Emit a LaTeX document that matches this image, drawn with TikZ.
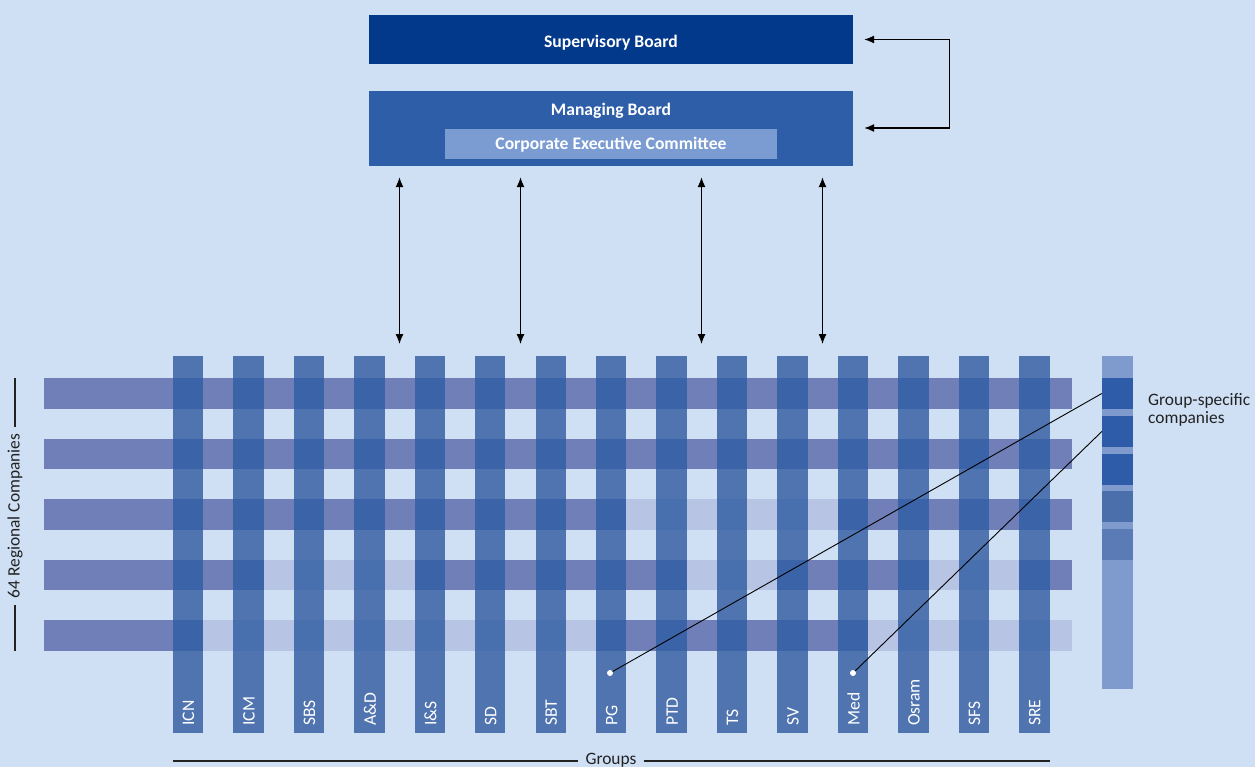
\documentclass[tikz,border=0pt]{standalone}
\usepackage{fontspec}
\setmainfont{Carlito}
\usetikzlibrary{arrows.meta}
\definecolor{bg}{HTML}{CFE0F5}
\definecolor{supblue}{HTML}{02398B}
\definecolor{mgblue}{HTML}{2E5EA8}
\definecolor{cecblue}{HTML}{7A9CD3}
\definecolor{colmed}{HTML}{5074B0}
\definecolor{rowdark}{HTML}{717FB9}
\definecolor{rowlight}{HTML}{B8C4E3}
\definecolor{xdark}{HTML}{3A63A8}
\definecolor{xmed}{HTML}{4870AE}
\definecolor{gsbar}{HTML}{7F9BCD}
\definecolor{gsdark}{HTML}{2E5CA8}
\definecolor{gsmid}{HTML}{4A6FAA}
\definecolor{gslight}{HTML}{5B7BB6}
\definecolor{txt}{HTML}{222222}
\tikzset{
  box/.style={draw=none, inner sep=0pt, minimum width=484pt},
  boxtext/.style={anchor=base, inner sep=0pt, text=white, font=\bfseries\fontsize{17.6}{20}\selectfont},
  dbl/.style={{Latex[length=10pt,width=8pt]}-{Latex[length=10pt,width=8pt]}, line width=1.2pt, black},
  leader/.style={black, line width=0.9pt},
  grplabel/.style={rotate=90, anchor=west, inner sep=0pt, text=white, font=\fontsize{17.6}{20}\selectfont},
  side/.style={text=txt, font=\fontsize{17.4}{18}\selectfont, inner sep=0pt},
  rule/.style={txt, line width=1.2pt},
  gsblock/.style={minimum width=31pt, minimum height=31pt, inner sep=0pt},
}
\begin{document}
\begin{tikzpicture}[x=1pt,y=-1pt]
\useasboundingbox (0,0) rectangle (1255,767);
\fill[bg] (0,0) rectangle (1255,767);
% top boxes
\node[box, fill=supblue, minimum height=49pt] (sup) at (611,39.5) {};
\node[boxtext] (supt) at (611,47.3) {Supervisory Board};
\node[box, fill=mgblue, minimum height=75pt] (mb) at (611,128.5) {};
\node[boxtext] (mbt) at (611,115.7) {Managing Board};
\node[fill=cecblue, minimum width=332pt, minimum height=30pt, inner sep=0pt] (cec) at (611,144) {};
\node[boxtext] (cect) at (611,150) {Corporate Executive Committee};
% bracket arrow
\draw[dbl] ([xshift=11pt]sup.east) -| ([xshift=96pt,yshift=0.5pt]mb.east) -- ([xshift=11pt,yshift=0.5pt]mb.east);
% vertical arrows
\coordinate (v1) at (399.5,344);
\coordinate (v2) at (520.5,344);
\coordinate (v3) at (701.5,344);
\coordinate (v4) at (822.5,344);
\foreach \v in {v1,v2,v3,v4}
  \draw[dbl, shorten >=11pt] (\v) -- (\v |- mb.south);
% grid rows
\def\rowspec{0/{-1/15},1/{-1/15},2/{-1/7,11/15},3/{-1/1,4/8,10/12,14/15},4/{-1/0,7/11}}
\foreach \r/\spans in \rowspec {
  \pgfmathsetmacro\yt{378.3+60.5*\r}
  \fill[rowlight] (44,\yt) rectangle (1072,\yt+30.2);
  \foreach \s/\e in \spans {
    \pgfmathsetmacro\xl{\s<0 ? 44 : 188+60.45*\s-15.2}
    \pgfmathsetmacro\xr{\e>14 ? 1072 : 188+60.45*\e+15.2}
    \fill[rowdark] (\xl,\yt) rectangle (\xr,\yt+30.2);
  }
}
% columns
\foreach \j in {0,...,14}
  \fill[colmed] (188+60.45*\j-15.2,355.7) rectangle (188+60.45*\j+15.2,733.3);
% intersections
\foreach \r/\spans in \rowspec {
  \pgfmathsetmacro\yt{378.3+60.5*\r}
  \foreach \j in {0,...,14}
    \fill[xmed] (188+60.45*\j-15.2,\yt) rectangle (188+60.45*\j+15.2,\yt+30.2);
  \foreach \s/\e in \spans {
    \pgfmathtruncatemacro\a{max(\s,0)}
    \pgfmathtruncatemacro\b{min(\e,14)}
    \foreach \j in {\a,...,\b}
      \fill[xdark] (188+60.45*\j-15.2,\yt) rectangle (188+60.45*\j+15.2,\yt+30.2);
  }
}
% column labels
\foreach \j/\t in {0/ICN,1/ICM,2/SBS,3/A\&D,4/I\&S,5/SD,6/SBT,7/PG,8/PTD,9/TS,10/SV,11/Med,12/Osram,13/SFS,14/SRE}
  \node[grplabel] (lab-\j) at (188+60.45*\j+0.5,726) {\t};
% group-specific bar
\fill[gsbar] (1102,356) rectangle (1133,689);
\node[gsblock, fill=gsdark] (gs1) at (1117.5,393.5) {};
\node[gsblock, fill=gsdark] (gs2) at (1117.5,431.5) {};
\node[gsblock, fill=gsdark] (gs3) at (1117.5,469.5) {};
\node[gsblock, fill=gsmid] (gs4) at (1117.5,506.5) {};
\node[gsblock, fill=gslight] (gs5) at (1117.5,544.5) {};
\node[side, anchor=base west] (gstext1) at (1148,405.5) {Group-specific};
\node[side, anchor=base west] (gstext2) at (1148,423.5) {companies};
% leader lines
\coordinate (dPG) at (610,673);
\coordinate (dMed) at (853,673);
\draw[leader] (dPG) -- (gs1.west);
\draw[leader] (dMed) -- (gs2.west);
\fill[white] (dPG) circle (3pt);
\fill[white] (dMed) circle (3pt);
% groups axis
\node[side, anchor=base] (groups) at (611,764.5) {Groups};
\coordinate (gl) at (173,761);
\coordinate (gr) at (1050,761);
\draw[rule] (gl) -- ([xshift=-7pt]groups.west |- gl);
\draw[rule] ([xshift=7pt]groups.east |- gr) -- (gr);
% regional axis
\node[side, rotate=90] (regional) at (15,516) {64 Regional Companies};
\coordinate (rt) at (15,378);
\coordinate (rb) at (15,651);
\draw[rule] (rt) -- ([yshift=7pt]regional.east);
\draw[rule] ([yshift=-7pt]regional.west) -- (rb);
\end{tikzpicture}
\end{document}
